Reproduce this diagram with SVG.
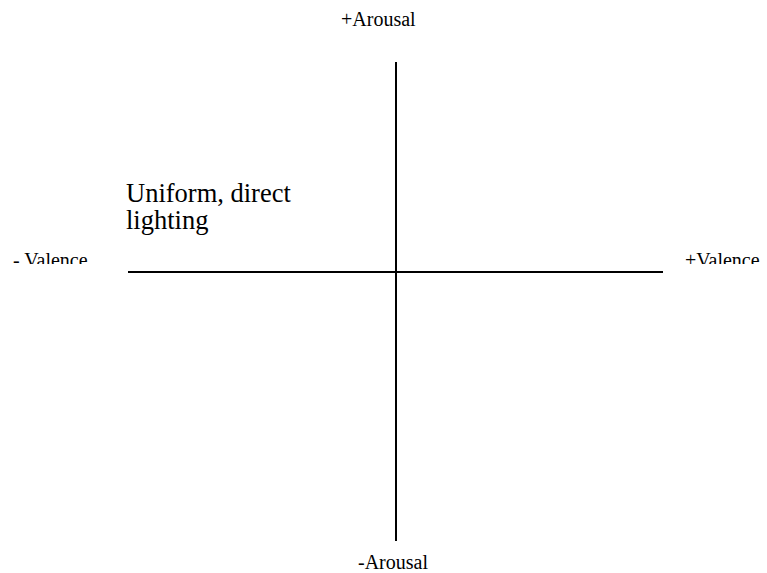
<svg xmlns="http://www.w3.org/2000/svg" width="767" height="573" viewBox="0 0 767 573">
<style>
text{font-family:'Liberation Serif','Times New Roman',Times,'DejaVu Serif',serif;fill:#000}
.ax{stroke:#000;stroke-width:2;fill:none}
</style>
<defs>
<clipPath id="clipV"><rect x="0" y="240" width="767" height="24"/></clipPath>
</defs>
<rect width="767" height="573" fill="#fff"/>
<g id="connectors">
<line class="ax" x1="396" y1="62" x2="396" y2="541"/>
<line class="ax" x1="128" y1="272" x2="663" y2="272"/>
</g>
<g id="top-arousal"><text x="341" y="26" font-size="20" font-family="Liberation Serif, serif">+Arousal</text></g>
<g id="bottom-arousal"><text x="358" y="569" font-size="20" font-family="Liberation Serif, serif">-Arousal</text></g>
<g id="neg-valence" clip-path="url(#clipV)"><text x="13" y="267" font-size="20" font-family="Liberation Serif, serif">- Valence</text></g>
<g id="pos-valence" clip-path="url(#clipV)"><text x="685" y="267" font-size="20" font-family="Liberation Serif, serif">+Valence</text></g>
<g id="quadrant-label">
<text x="126" y="202" font-size="26.5" font-family="Liberation Serif, serif">Uniform, direct</text>
<text x="126" y="229" font-size="26.5" font-family="Liberation Serif, serif">lighting</text>
</g>
</svg>
